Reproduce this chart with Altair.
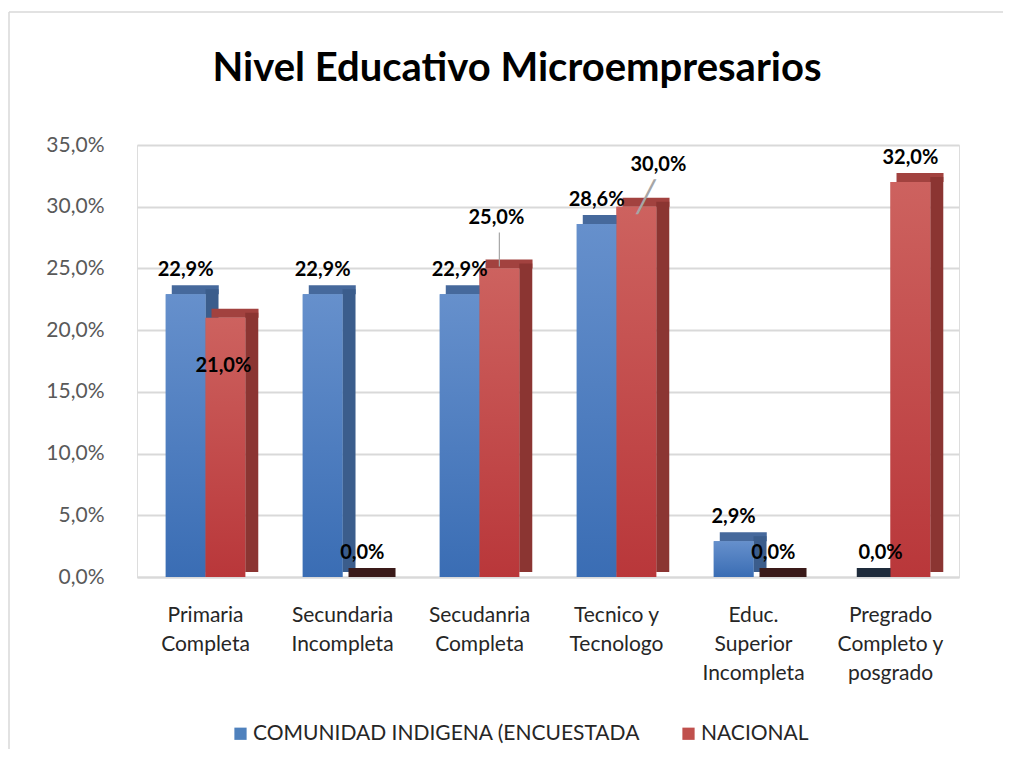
import altair as alt
import pandas as pd

categories = [
    "Primaria\nCompleta",
    "Secundaria\nIncompleta",
    "Secudanria\nCompleta",
    "Tecnico y\nTecnologo",
    "Educ.\nSuperior\nIncompleta",
    "Pregrado\nCompleto y\nposgrado",
]
series = ["COMUNIDAD INDIGENA (ENCUESTADA", "NACIONAL"]
comunidad = [0.229, 0.229, 0.229, 0.286, 0.029, 0.0]
nacional = [0.210, 0.0, 0.250, 0.300, 0.0, 0.320]
colors = ["#4F81BD", "#C0504D"]

rows = []
for c, a, b in zip(categories, comunidad, nacional):
    rows.append({"cat": c, "serie": series[0], "value": a})
    rows.append({"cat": c, "serie": series[1], "value": b})
df = pd.DataFrame(rows)
df["label"] = df["value"].map(lambda v: f"{v*100:.1f}%".replace(".", ","))

# label placement tweaks (styling, not data)
label_style = {
    (categories[0], series[1]): (-2, 58),
    (categories[2], series[1]): (-3, -40),
    (categories[3], series[1]): (22, -32),
    (categories[5], series[0]): (10, -14),
}

FONT = "Lato"
SUB = 39.75  # pixel width of one bar (sub-band), used for the 3-D faces
xenc = alt.X(
    "cat:N",
    sort=categories,
    scale=alt.Scale(paddingInner=0.42, paddingOuter=0.21),
    axis=alt.Axis(
        title=None,
        labelAngle=0,
        labelExpr="split(datum.label, '\\n')",
        labelFont=FONT,
        labelFontSize=21,
        labelColor="#262626",
        labelLineHeight=29,
        labelPadding=27,
        ticks=False,
        domainColor="#D9D9D9",
        domainWidth=2,
    ),
)
yenc = alt.Y(
    "value:Q",
    scale=alt.Scale(domain=[0, 0.35]),
    axis=alt.Axis(
        title=None,
        values=[0, 0.05, 0.10, 0.15, 0.20, 0.25, 0.30, 0.35],
        labelExpr="replace(format(datum.value, '.1%'), '.', ',')",
        labelFont=FONT,
        labelFontSize=21,
        labelColor="#595959",
        labelPadding=33,
        ticks=False,
        domain=False,
        gridColor="#D9D9D9",
        gridWidth=2,
    ),
)
xoff = alt.XOffset("serie:N", sort=series)
xplain = alt.X("cat:N", sort=categories)

base = alt.Chart(df)

bars = base.mark_bar().encode(
    x=xenc,
    xOffset=xoff,
    y=yenc,
    color=alt.Color(
        "serie:N",
        sort=series,
        scale=alt.Scale(domain=series, range=colors),
        legend=alt.Legend(
            title=None,
            orient="none",
            legendX=93,
            legendY=578,
            direction="horizontal",
            symbolType="square",
            symbolSize=150,
            symbolStrokeWidth=0,
            labelFont=FONT,
            labelFontSize=21,
            labelColor="#262626",
            labelLimit=0,
            labelOffset=2,
            columnPadding=37,
        ),
    ),
)

# pseudo-3D faces (top and side) drawn behind the front faces
face_colors = {
    series[0]: {"top": "#46699C", "side": "#3B5D8C", "zero": "#1E2B3B"},
    series[1]: {"top": "#A2423F", "side": "#8B3532", "zero": "#3A1A19"},
}
depth_layers = []
for i, s in enumerate(series):
    fc = face_colors[s]
    sub = base.transform_filter(alt.datum.serie == s)
    depth_layers.append(
        sub.transform_calculate(off=f"{i * SUB + 6}")
        .mark_bar(width=47, align="left", yOffset=-9, y2Offset=0)
        .encode(
            x=xplain,
            xOffset=alt.XOffset("off:Q", scale=None),
            y="value:Q",
            y2="value:Q",
            color=alt.condition(alt.datum.value == 0, alt.value(fc["zero"]), alt.value(fc["top"])),
        )
    )
    depth_layers.append(
        sub.transform_calculate(off=f"{(i + 1) * SUB}")
        .mark_bar(width=13, align="left", yOffset=-5, y2Offset=-9)
        .encode(
            x=xplain,
            xOffset=alt.XOffset("off:Q", scale=None),
            y="value:Q",
            color=alt.condition(alt.datum.value == 0, alt.value(fc["zero"]), alt.value(fc["side"])),
        )
    )

grads = {
    series[0]: alt.Gradient(
        gradient="linear",
        stops=[alt.GradientStop(color="#6690CC", offset=0), alt.GradientStop(color="#3A6DB4", offset=1)],
        x1=0, x2=0, y1=0, y2=1,
    ),
    series[1]: alt.Gradient(
        gradient="linear",
        stops=[alt.GradientStop(color="#CD625F", offset=0), alt.GradientStop(color="#B9373A", offset=1)],
        x1=0, x2=0, y1=0, y2=1,
    ),
}
grad_layers = [
    base.transform_filter(alt.datum.serie == s)
    .mark_bar(color=g)
    .encode(x=xplain, xOffset=xoff, y="value:Q")
    for s, g in grads.items()
]

# leader lines for the two displaced labels
leader_25 = (
    base.transform_filter((alt.datum.cat == categories[2]) & (alt.datum.serie == series[1]))
    .mark_rule(color="#A6A6A6", strokeWidth=1.2, yOffset=-2, y2Offset=-36, xOffset=-4)
    .encode(x=xplain, xOffset=xoff, y="value:Q", y2="value:Q")
)
leader_30 = (
    base.transform_filter((alt.datum.cat == categories[3]) & (alt.datum.serie == series[1]))
    .mark_text(text="╱", fontSize=30, color="#A6A6A6", baseline="bottom", dx=10, dy=6)
    .encode(x=xplain, xOffset=xoff, y="value:Q")
)

special_keys = set()
text_layers = []
for (c, s), (dx, dy) in label_style.items():
    special_keys.add((c, s))
    text_layers.append(
        base.transform_filter((alt.datum.cat == c) & (alt.datum.serie == s))
        .mark_text(font=FONT, fontSize=20, fontWeight="bold", color="black", baseline="bottom", dx=dx, dy=dy)
        .encode(x=xplain, xOffset=xoff, y="value:Q", text="label:N")
    )

default_filter = None
for c, s in special_keys:
    cond = ~((alt.datum.cat == c) & (alt.datum.serie == s))
    default_filter = cond if default_filter is None else (default_filter & cond)

default_text = (
    base.transform_filter(default_filter)
    .mark_text(font=FONT, fontSize=20, fontWeight="bold", color="black", baseline="bottom", dy=-14)
    .encode(x=xplain, xOffset=xoff, y="value:Q", text="label:N")
)

# chart frame (left and top edges of the figure border)
frame_df = pd.DataFrame({"f": [0]})
frame_left = alt.Chart(frame_df).mark_rule(color="#D9D9D9", strokeWidth=1.5).encode(
    x=alt.value(-128), y=alt.value(-133), y2=alt.value(604)
)
frame_top = alt.Chart(frame_df).mark_rule(color="#D9D9D9", strokeWidth=1.5).encode(
    x=alt.value(-128), x2=alt.value(866), y=alt.value(-133)
)

chart = (
    alt.layer(
        frame_left, frame_top, bars, *depth_layers, *grad_layers,
        leader_25, leader_30, default_text, *text_layers,
    )
    .properties(
        width=822,
        height=432,
        padding={"left": 0, "top": 3, "right": 0, "bottom": 0},
        title=alt.TitleParams(
            "Nivel Educativo Microempresarios",
            font=FONT,
            fontSize=40,
            fontWeight="bold",
            color="black",
            anchor="middle",
            offset=-78,
            dx=-31,
        ),
    )
    .configure_view(stroke=None)
    .configure(background="white")
)

chart.save("out.html", embed_options={"renderer": "svg", "actions": False})
